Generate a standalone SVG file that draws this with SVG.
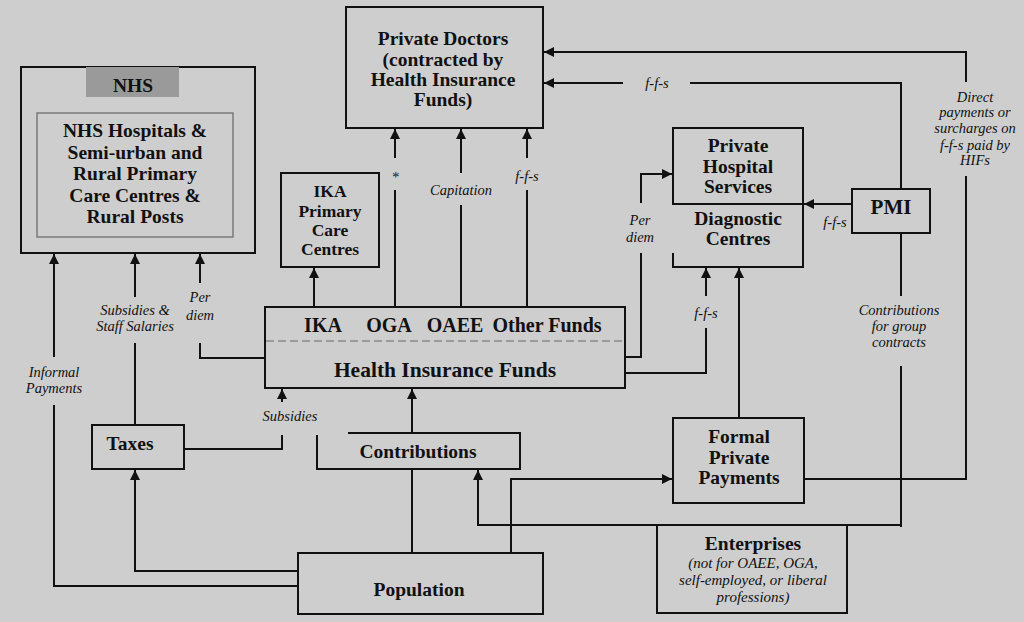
<svg xmlns="http://www.w3.org/2000/svg" width="1024" height="622" viewBox="0 0 1024 622">
<style>
.box{fill:none;stroke:#111;stroke-width:2}
.b{font-family:'Liberation Serif','Times New Roman','DejaVu Serif',serif;font-weight:bold;font-size:19.5px;fill:#111;text-anchor:middle}
.i{font-family:'Liberation Serif','Times New Roman','DejaVu Serif',serif;font-style:italic;font-size:14.5px;fill:#111;text-anchor:middle}
.c{fill:none;stroke:#111;stroke-width:2}
.a{marker-end:url(#arr)}
</style>
<defs>
<marker id="arr" markerUnits="userSpaceOnUse" markerWidth="10" markerHeight="14" viewBox="0 0 10 14" refX="10" refY="5" orient="auto">
<path d="M0,0 L10,5 L0,10 Z" fill="#111"/>
</marker>
</defs>
<rect width="1024" height="622" fill="#cecece"/>

<g id="connectors">
<path class="c" d="M298,586 H54 V405"/>
<path class="c a" d="M54,357 V254"/>
<path class="c a" d="M298,571 H135 V470"/>
<path class="c" d="M135,425 V343"/>
<path class="c a" d="M135,297 V254"/>
<path class="c" d="M265,358 H200 V343"/>
<path class="c a" d="M200,283 V254"/>
<path class="c" d="M184,449 H282 V435"/>
<path class="c a" d="M282,402 V389"/>
<path class="c a" d="M412,433 V389"/>
<path class="c" d="M412,553 V469"/>
<path class="c" d="M901,527 V366"/>
<path class="c" d="M901,296 V233"/>
<path class="c a" d="M901,525 H478 V470"/>
<path class="c a" d="M511,553 V479 H672"/>
<path class="c a" d="M739,418 V268"/>
<path class="c" d="M804,479 H966 V176"/>
<path class="c a" d="M966,82 V52 H544"/>
<path class="c" d="M901,189 V83 H690"/>
<path class="c a" d="M623,83 H544"/>
<path class="c a" d="M852,204 H804"/>
<path class="c" d="M625,357 H641 V253"/>
<path class="c a" d="M641,203 V174 H672"/>
<path class="c" d="M625,373 H706 V328"/>
<path class="c a" d="M706,296 V268"/>
<path class="c a" d="M314,307 V268"/>
<path class="c" d="M395,307 V190"/>
<path class="c a" d="M395,158 V129"/>
<path class="c" d="M461,307 V205"/>
<path class="c a" d="M461,173 V129"/>
<path class="c" d="M527,307 V190"/>
<path class="c a" d="M527,158 V129"/>
<text class="i" x="54" y="377">Informal</text>
<text class="i" x="54" y="393">Payments</text>
<text class="i" x="135" y="315">Subsidies &amp;</text>
<text class="i" x="135" y="331">Staff Salaries</text>
<text class="i" x="200" y="302">Per</text>
<text class="i" x="200" y="320">diem</text>
<text class="i" x="290" y="421">Subsidies</text>
<text class="i" x="395" y="182">*</text>
<text class="i" x="461" y="195">Capitation</text>
<text class="i" x="527" y="181">f-f-s</text>
<text class="i" x="657" y="88">f-f-s</text>
<text class="i" x="640" y="225">Per</text>
<text class="i" x="640" y="242">diem</text>
<text class="i" x="706" y="318">f-f-s</text>
<text class="i" x="835" y="227">f-f-s</text>
<text class="i" x="899" y="315">Contributions</text>
<text class="i" x="899" y="331">for group</text>
<text class="i" x="899" y="347">contracts</text>
<text class="i" x="975" y="102">Direct</text>
<text class="i" x="975" y="117">payments or</text>
<text class="i" x="975" y="133">surcharges on</text>
<text class="i" x="975" y="150">f-f-s paid by</text>
<text class="i" x="975" y="165">HIFs</text>
</g>

<g id="nhs">
<rect class="box" x="21" y="67" width="234" height="186"/>
<rect x="86" y="67" width="93" height="30" fill="#9a9a9a"/>
<text class="b" x="133" y="92">NHS</text>
<rect x="37" y="113" width="196" height="124" fill="none" stroke="#7a7a7a" stroke-width="1.5"/>
<text class="b" x="135" y="137">NHS Hospitals &amp;</text>
<text class="b" x="135" y="159">Semi-urban and</text>
<text class="b" x="135" y="180">Rural Primary</text>
<text class="b" x="135" y="202">Care Centres &amp;</text>
<text class="b" x="135" y="223">Rural Posts</text>
</g>

<g id="private-doctors">
<rect class="box" x="346" y="7" width="197" height="121"/>
<text class="b" x="443" y="45">Private Doctors</text>
<text class="b" x="443" y="66">(contracted by</text>
<text class="b" x="443" y="86">Health Insurance</text>
<text class="b" x="443" y="106">Funds)</text>
</g>

<g id="ika-pcc">
<rect class="box" x="281" y="173" width="98" height="94"/>
<text class="b" x="330" y="197" style="font-size:17.5px">IKA</text>
<text class="b" x="330" y="217" style="font-size:17.5px">Primary</text>
<text class="b" x="330" y="236" style="font-size:17.5px">Care</text>
<text class="b" x="330" y="255" style="font-size:17.5px">Centres</text>
</g>

<g id="private-hospital">
<rect class="box" x="673" y="128" width="130" height="76"/>
<text class="b" x="738" y="152">Private</text>
<text class="b" x="738" y="173">Hospital</text>
<text class="b" x="738" y="193">Services</text>
</g>

<g id="diagnostic">
<path class="box" d="M673,253 V267 H803 V204"/>
<text class="b" x="738" y="225">Diagnostic</text>
<text class="b" x="738" y="245">Centres</text>
</g>

<g id="pmi">
<rect class="box" x="852" y="189" width="78" height="44"/>
<text class="b" x="891" y="214" style="font-size:21px">PMI</text>
</g>

<g id="hif">
<rect class="box" x="265" y="307" width="360" height="81"/>
<line x1="266" y1="341" x2="624" y2="341" stroke="#8a8a8a" stroke-width="1.5" stroke-dasharray="8,4"/>
<text class="b" x="323" y="332" style="font-size:20px">IKA</text>
<text class="b" x="389" y="332" style="font-size:20px">OGA</text>
<text class="b" x="455" y="332" style="font-size:20px">OAEE</text>
<text class="b" x="547" y="332" style="font-size:20px">Other Funds</text>
<text class="b" x="445" y="377" style="font-size:21.5px">Health Insurance Funds</text>
</g>

<g id="taxes">
<rect class="box" x="92" y="425" width="92" height="44"/>
<text class="b" x="130" y="450">Taxes</text>
</g>

<g id="contributions">
<path class="box" d="M348,433 H520 V469 H317 V435"/>
<text class="b" x="418" y="458">Contributions</text>
</g>

<g id="formal-private-payments">
<rect class="box" x="673" y="418" width="131" height="85"/>
<text class="b" x="739" y="443">Formal</text>
<text class="b" x="739" y="464">Private</text>
<text class="b" x="739" y="484">Payments</text>
</g>

<g id="enterprises">
<rect class="box" x="657" y="525" width="190" height="88"/>
<text class="b" x="753" y="550">Enterprises</text>
<text class="i" x="753" y="568" style="font-size:15px">(not for OAEE, OGA,</text>
<text class="i" x="753" y="585" style="font-size:15px">self-employed, or liberal</text>
<text class="i" x="753" y="602" style="font-size:15px">professions)</text>
</g>

<g id="population">
<rect class="box" x="298" y="553" width="245" height="61"/>
<text class="b" x="419" y="596">Population</text>
</g>
</svg>
